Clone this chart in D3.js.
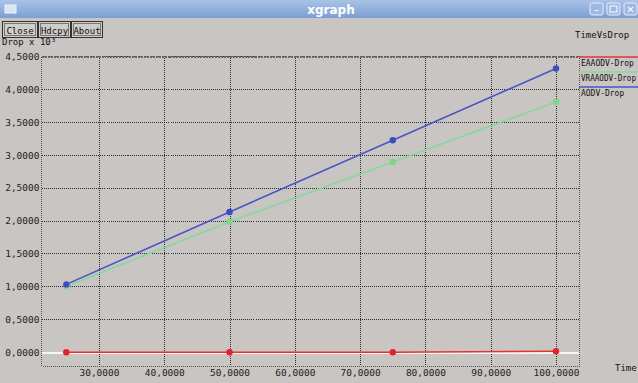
<!DOCTYPE html>
<html><head><meta charset="utf-8">
<script src="https://cdn.jsdelivr.net/npm/d3@7"></script>
<style>body{margin:0;background:#c8c5c3;overflow:hidden}svg{display:block}</style>
</head><body>
<svg id="c" width="638" height="383"></svg>
<script>
const times = [25000, 50000, 75000, 100000];
const seriesNames = ["EAAODV-Drop", "VRAAODV-Drop", "AODV-Drop"];
const eaaodv = [0.0, 0.0, 0.0, 0.015];
const vraaodv = [1.0, 1.98, 2.89, 3.80];
const aodv = [1.03, 2.13, 3.22, 4.31];
const xTicks = [30000, 40000, 50000, 60000, 70000, 80000, 90000, 100000];
const yTicks = [0, 0.5, 1, 1.5, 2, 2.5, 3, 3.5, 4, 4.5];
const colors = ["#e8302c", "#86d99c", "#4c55c6"];
const dotColors = ["#e8202a", "#7dd58f", "#3e4cc2"];

const svg = d3.select("#c");
const W = 638, H = 383;
svg.append("rect").attr("width", W).attr("height", H).attr("fill", "#c8c5c3");
// title bar
const grad = svg.append("defs").append("linearGradient").attr("id","tb").attr("x1",0).attr("y1",0).attr("x2",0).attr("y2",1);
grad.append("stop").attr("offset",0).attr("stop-color","#a9c3e6");
grad.append("stop").attr("offset",1).attr("stop-color","#7c9fd3");
svg.append("rect").attr("width", W).attr("height", 18).attr("fill","url(#tb)");
svg.append("text").attr("x", 331).attr("y", 14).attr("text-anchor","middle")
  .attr("fill","#fff").attr("font-family","DejaVu Sans").attr("font-weight","bold").attr("font-size",12).text("xgraph");
svg.append("rect").attr("x",5).attr("y",5).attr("width",11).attr("height",8).attr("fill","#d8e4f4").attr("stroke","#eef3fa");
[590, 607, 624].forEach((x,i)=>{
  svg.append("rect").attr("x",x).attr("y",3).attr("width",13).attr("height",12).attr("rx",2)
    .attr("fill","#9db9e2").attr("stroke","#e4ecf8");
});
svg.append("text").attr("x",596.5).attr("y",13).attr("text-anchor","middle").attr("fill","#fff").attr("font-size",10).attr("font-family","DejaVu Sans").text("–");
svg.append("rect").attr("x",610).attr("y",6).attr("width",7).attr("height",6).attr("fill","none").attr("stroke","#fff");
svg.append("text").attr("x",630.5).attr("y",13).attr("text-anchor","middle").attr("fill","#fff").attr("font-size",10).attr("font-family","DejaVu Sans").text("✕");

// buttons
const btns = [["Close",2,35],["Hdcpy",38,32],["About",71,31]];
btns.forEach(([t,x,w])=>{
  svg.append("rect").attr("x",x+0.5).attr("y",21.5).attr("width",w).attr("height",16).attr("fill","#cfccca").attr("stroke","#333");
  svg.append("rect").attr("x",x+2.5).attr("y",23.5).attr("width",w-4).attr("height",12).attr("fill","none").attr("stroke","#777");
  svg.append("text").attr("x",x+w/2+0.5).attr("y",33.5).attr("text-anchor","middle").attr("font-family","DejaVu Sans Mono")
    .attr("font-size",9).attr("fill","#111").text(t);
});
svg.append("text").attr("x",2).attr("y",45).attr("font-family","DejaVu Sans Mono").attr("font-size",9).attr("fill","#111").text("Drop x 10³");
svg.append("text").attr("x",575).attr("y",38).attr("font-family","DejaVu Sans Mono").attr("font-size",9).attr("fill","#111").text("TimeVsDrop");
svg.append("text").attr("x",615).attr("y",371).attr("font-family","DejaVu Sans Mono").attr("font-size",9).attr("fill","#111").text("Time");

const L = 41.5, R = 579.5, T = 56, B = 366;
const x = d3.scaleLinear().domain([21200, 103600]).range([L, R]);
const y = d3.scaleLinear().domain([-0.21, 4.5]).range([B, T]);

const g = svg.append("g").attr("shape-rendering","crispEdges");
// grid
g.selectAll(".hg").data(yTicks.filter(v=>v!==0)).join("line")
  .attr("x1",L).attr("x2",R).attr("y1",d=>Math.round(y(d))+0.5).attr("y2",d=>Math.round(y(d))+0.5)
  .attr("stroke","#2e2e2e").attr("stroke-dasharray","1,1").attr("stroke-width",1);
g.selectAll(".vg").data(xTicks).join("line")
  .attr("y1",T).attr("y2",B).attr("x1",d=>Math.round(x(d))+0.5).attr("x2",d=>Math.round(x(d))+0.5)
  .attr("stroke","#2e2e2e").attr("stroke-dasharray","1,1").attr("stroke-width",1);
// zero axis line
g.append("line").attr("x1",L).attr("x2",R).attr("y1",Math.round(y(0))+0.5).attr("y2",Math.round(y(0))+0.5)
  .attr("stroke","#f4f4f4").attr("stroke-width",2);
// frame
g.append("rect").attr("x",L).attr("y",T).attr("width",R-L).attr("height",B-T).attr("fill","none")
  .attr("stroke","#555").attr("stroke-dasharray","1,1");
g.append("line").attr("x1",L).attr("x2",R).attr("y1",T+0.5).attr("y2",T+0.5).attr("stroke","#666").attr("stroke-width",2).attr("stroke-dasharray","2,1");

// axes labels
const yAxis = d3.axisLeft(y).tickValues(yTicks).tickSize(0).tickPadding(2);
const ya = svg.append("g").attr("transform",`translate(${L},0)`).call(yAxis);
ya.select(".domain").remove();
ya.selectAll("text").text(d=>d.toFixed(4).replace(".", ","))
  .attr("font-family","DejaVu Sans Mono").attr("font-size",9.5).attr("fill","#222").attr("dy","0.35em");
const xAxis = d3.axisBottom(x).tickValues(xTicks).tickSize(0).tickPadding(3);
const xa = svg.append("g").attr("transform",`translate(0,${B})`).call(xAxis);
xa.select(".domain").remove();
xa.selectAll("text").text(d=>(d/1000)+",0000").attr("font-family","DejaVu Sans Mono").attr("font-size",9.5).attr("fill","#222");

// series
const all = [eaaodv, vraaodv, aodv];
const line = d3.line().x((d,i)=>x(times[i])).y(d=>y(d));
[1,2,0].forEach(k=>{
  svg.append("path").datum(all[k]).attr("d",line).attr("fill","none").attr("stroke",colors[k]).attr("stroke-width",1.6);
});
[1,2,0].forEach(k=>{
  svg.selectAll(".p"+k).data(all[k]).join("circle").attr("cx",(d,i)=>x(times[i])).attr("cy",d=>y(d)).attr("r",3.2).attr("fill",dotColors[k]);
});

// legend
seriesNames.forEach((n,i)=>{
  const ly = 57 + i*15;
  svg.append("line").attr("x1",579).attr("x2",638).attr("y1",ly).attr("y2",ly).attr("stroke",colors[i]).attr("stroke-width",1.5);
  svg.append("text").attr("x",581).attr("y",ly+9).attr("font-family","DejaVu Sans Mono").attr("font-size",8)
    .attr("textLength", Math.min(n.length*4.8, 55)).attr("lengthAdjust","spacingAndGlyphs").attr("fill","#111").text(n);
});
</script>
</body></html>
